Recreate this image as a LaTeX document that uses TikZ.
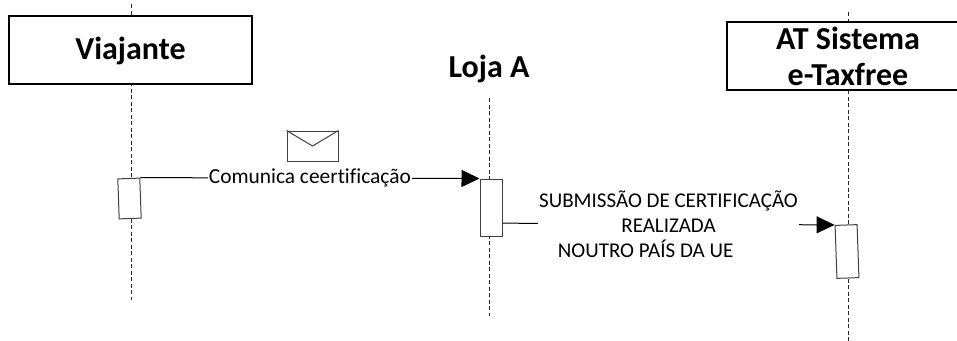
\documentclass[tikz,border=0pt]{standalone}
\usepackage{fontspec}
\setmainfont{Carlito}[Ligatures=NoCommon]
\usetikzlibrary{arrows.meta,calc}
\begin{document}
\begin{tikzpicture}[x=1pt,y=-1pt,
  titlebox/.style={draw=black,line width=2pt,fill=white,minimum width=243pt,minimum height=68pt,inner sep=0pt,font=\fontsize{32}{36}\selectfont\bfseries},
  titletext/.style={inner sep=0pt,font=\fontsize{32}{36}\selectfont\bfseries},
  lifeline/.style={draw=black!85,line width=1pt,dash pattern=on 4pt off 2.5pt},
  actbox/.style={draw=black!75,line width=1pt,fill=white,minimum width=22pt,inner sep=0pt},
  msg/.style={draw=black,line width=1pt,-{Triangle[length=18pt,width=17pt]}},
  msgtext/.style={fill=white,inner sep=1pt,text=black},
  envicon/.style={draw=black!75,line width=1pt,minimum width=51pt,minimum height=30pt,inner sep=0pt}
]
\useasboundingbox (0,0) rectangle (957,340);
% lifeline ends
\coordinate (v-top) at (131,4);
\coordinate (v-end) at (131,300);
\coordinate (l-top) at (489,98);
\coordinate (l-end) at (489,316);
\coordinate (a-top) at (848,12);
\coordinate (a-end) at (848,342);
\draw[lifeline] (v-top) -- (v-end);
\draw[lifeline] (l-top) -- (l-end);
\draw[lifeline] (a-top) -- (a-end);
% heads
\node[titlebox,text height=20.6pt,text depth=0pt] (via) at (130.5,49.5) {Viajante};
\node[titletext,anchor=base] (loja) at (489,77) {Loja A};
\node[titlebox,align=center,minimum width=242pt] (at) at (848,56) {AT Sistema\\e-Taxfree};
% activations
\node[actbox,minimum height=40pt,rotate=2] (act1) at (129.5,198.5) {};
\node[actbox,minimum height=57pt] (act2) at (491,207.5) {};
\node[actbox,minimum height=53pt,rotate=2] (act3) at (847,251.5) {};
% envelope
\node[envicon] (env) at (312.5,146) {};
\draw[black!75,line width=1pt] (env.north west) -- (env.center) -- (env.north east);
% messages
\draw[msg] (act1.north east) -- node[msgtext,font=\fontsize{21.4}{25}\selectfont] (m1) {Comunica ceertificação} (act2.north west);
\coordinate (m2s) at ($(act2.north east)!0.77!(act2.south east)$);
\draw[msg] (m2s) -- node[msgtext,align=center,font=\fontsize{21}{25}\selectfont] (m2) {SUBMISSÃO DE CERTIFICAÇÃO\\REALIZADA\\NOUTRO PAÍS DA UE\hspace*{46pt}} (act3.north west);
\end{tikzpicture}
\end{document}
